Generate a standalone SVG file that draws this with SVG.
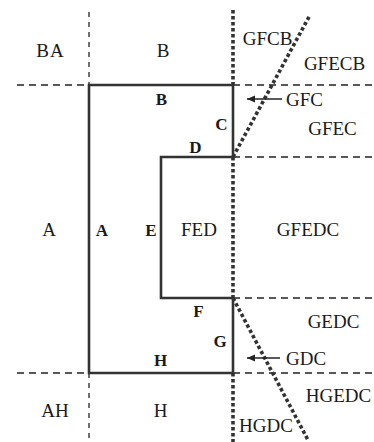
<svg xmlns="http://www.w3.org/2000/svg" width="374" height="442" viewBox="0 0 374 442">
<defs>
<style>
.t{font-family:"Liberation Serif","Times New Roman",serif;font-size:19px;fill:#1a1a1a;text-anchor:middle}
.b{font-family:"Liberation Serif","Times New Roman",serif;font-size:17px;font-weight:bold;fill:#1a1a1a;text-anchor:middle}
.dash{stroke:#222;stroke-width:1.3;stroke-dasharray:7 5;fill:none}
.vdash{stroke:#222;stroke-width:1.3;stroke-dasharray:5 5;fill:none}
.dot{stroke:#333;stroke-width:3.6;stroke-dasharray:3.5 2.5;fill:none}
.solid{stroke:#333;stroke-width:2.6;fill:none;stroke-linejoin:miter}
.arr{stroke:#222;stroke-width:1.3;fill:none}
</style>
<marker id="ah" viewBox="0 0 10 10" refX="9" refY="5" markerWidth="7" markerHeight="7" orient="auto">
<path d="M0,1 L9,5 L0,9 Z" fill="#222"/>
</marker>
</defs>
<rect width="374" height="442" fill="#fff"/>
<g id="grid">
<line class="vdash" x1="89" y1="12" x2="89" y2="85"/>
<line class="vdash" x1="89" y1="373" x2="89" y2="442"/>
<line class="dash" x1="17" y1="85" x2="89" y2="85"/>
<line class="dash" x1="233" y1="85" x2="374" y2="85"/>
<line class="dash" x1="233" y1="157" x2="374" y2="157"/>
<line class="dash" x1="233" y1="298" x2="374" y2="298"/>
<line class="dash" x1="17" y1="373" x2="89" y2="373"/>
<line class="dash" x1="233" y1="373" x2="374" y2="373"/>
<line class="dot" x1="233" y1="10" x2="233" y2="85"/>
<line class="dot" x1="233" y1="157" x2="233" y2="298"/>
<line class="dot" x1="233" y1="373" x2="233" y2="442"/>
<line class="dot" x1="233" y1="157" x2="310" y2="15"/>
<line class="dot" x1="233" y1="298" x2="308" y2="440"/>
</g>
<g id="outline">
<path class="solid" d="M89,85 H233 V157 H161 V298 H233 V373 H89 Z"/>
</g>
<g id="connectors">
<line class="arr" x1="282" y1="99" x2="247" y2="99" marker-end="url(#ah)"/>
<line class="arr" x1="280" y1="358" x2="247" y2="358" marker-end="url(#ah)"/>
</g>
<g id="labels">
<text class="t" x="50.5" y="57" letter-spacing="1">BA</text>
<text class="t" x="163" y="57">B</text>
<text class="t" x="267.5" y="45">GFCB</text>
<text class="t" x="334.5" y="70">GFECB</text>
<text class="b" x="161.5" y="105">B</text>
<text class="t" x="304.5" y="106">GFC</text>
<text class="b" x="221.5" y="130">C</text>
<text class="t" x="332.5" y="135">GFEC</text>
<text class="b" x="195.5" y="153">D</text>
<text class="t" x="49" y="236">A</text>
<text class="b" x="102" y="236">A</text>
<text class="b" x="151" y="236">E</text>
<text class="t" x="199" y="236">FED</text>
<text class="t" x="308" y="236">GFEDC</text>
<text class="b" x="198.5" y="317">F</text>
<text class="t" x="333.5" y="328">GEDC</text>
<text class="b" x="220" y="347">G</text>
<text class="b" x="160.5" y="366">H</text>
<text class="t" x="306" y="365">GDC</text>
<text class="t" x="338.5" y="402">HGEDC</text>
<text class="t" x="55" y="417">AH</text>
<text class="t" x="160.5" y="417">H</text>
<text class="t" x="266" y="432">HGDC</text>
</g>
</svg>
